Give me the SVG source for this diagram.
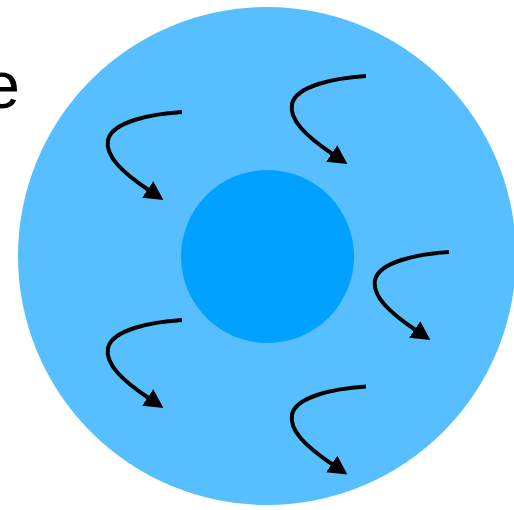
<svg xmlns="http://www.w3.org/2000/svg" xmlns:xlink="http://www.w3.org/1999/xlink" width="514" height="510" viewBox="0 0 514 510">
  <style>
    .flow { fill: none; stroke: #000; stroke-width: 4; stroke-linecap: butt; }
    .lbl { font-family: "Liberation Sans", Arial, sans-serif; font-size: 66px; fill: #000; }
  </style>
  <defs>
    <marker id="head" markerUnits="userSpaceOnUse" viewBox="0 0 19 20" refX="1" refY="10" markerWidth="19" markerHeight="20" orient="auto">
      <path d="M0,0 L19,10 L0,20 z" fill="#000"/>
    </marker>
    <path id="swirl" class="flow" d="M182,112 C150,114 112,122 108,140 C105,156 122,172 148.5,190" marker-end="url(#head)"/>
  </defs>
  <rect width="514" height="510" fill="#fff"/>
  <text class="lbl" x="20" y="108" text-anchor="end">e</text>
  <g id="outer">
    <circle cx="267" cy="256" r="249" fill="#57BFFF"/>
  </g>
  <g id="core">
    <circle cx="267.5" cy="256.5" r="86.5" fill="#00A1FF"/>
  </g>
  <g id="connectors">
    <use xlink:href="#swirl"/>
    <use xlink:href="#swirl" transform="translate(184,-36)"/>
    <use xlink:href="#swirl" transform="translate(267,140)"/>
    <use xlink:href="#swirl" transform="translate(0,208)"/>
    <use xlink:href="#swirl" transform="translate(184,274.5)"/>
  </g>
</svg>
